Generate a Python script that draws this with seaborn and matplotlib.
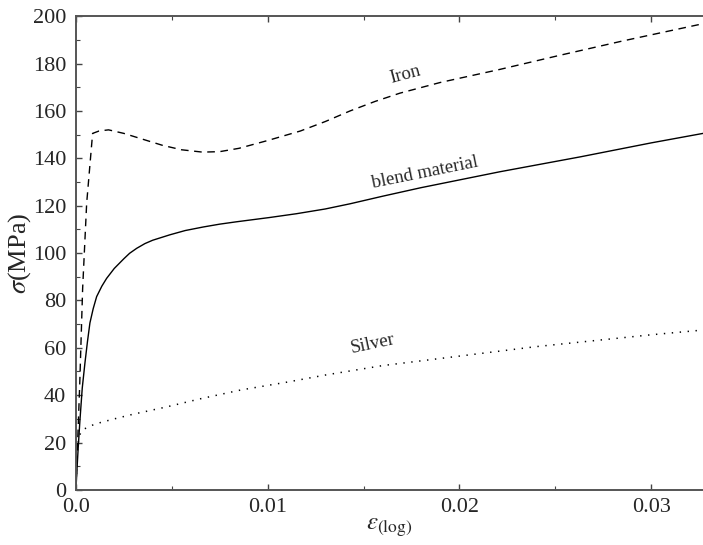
import matplotlib
matplotlib.use("Agg")
import matplotlib.pyplot as plt
from matplotlib.ticker import MultipleLocator
import seaborn as sns
import numpy as np

# strain (log) and stress (MPa)
iron_x = [0.0, 0.0002, 0.00035, 0.00056, 0.00087, 0.0012, 0.0017, 0.0025, 0.0035,
          0.0045, 0.0055, 0.0066, 0.0075, 0.0085, 0.01, 0.0117, 0.013, 0.0143,
          0.0156, 0.0169, 0.019, 0.0221, 0.02525, 0.0285, 0.0327]
iron_y = [0.0, 45, 85, 121, 150.5, 151.5, 152, 150.5, 148, 145.5, 143.6, 142.6,
          142.8, 144.2, 147.5, 151.5, 155.5, 160, 164.0, 167.5, 172, 177.5, 183.5,
          189.5, 196.8]

blend_x = [0.0, 0.00005, 0.00012, 0.00021, 0.00033, 0.00047, 0.0006, 0.00073,
           0.0009, 0.00108, 0.00135, 0.0016, 0.002, 0.0025, 0.0028, 0.00317,
           0.0036, 0.004, 0.0049, 0.0057, 0.00664, 0.0075, 0.00838, 0.0101,
           0.0115, 0.013, 0.0143, 0.016, 0.018, 0.0221, 0.0263, 0.03, 0.0327]
blend_y = [0.0, 8, 18, 29.5, 43, 53.6, 62.5, 70.5, 76.5, 81.6, 86, 89.3, 93.5,
           97.6, 99.9, 102.0, 104.0, 105.4, 107.7, 109.5, 111.0, 112.2, 113.2,
           115, 116.6, 118.6, 120.8, 124.0, 127.6, 134.3, 140.6, 146.5, 150.5]

silver_x = [0.0, 0.00004, 0.00009, 0.00015, 0.00025, 0.0004, 0.0008, 0.0013,
            0.002, 0.003, 0.0047, 0.0065, 0.0086, 0.011, 0.013, 0.016, 0.019,
            0.0212, 0.024, 0.027, 0.03, 0.0327]
silver_y = [0.0, 10, 18, 22, 24.2, 25.6, 27.2, 28.5, 30, 32, 35, 38.5, 42.2,
            45.5, 48.5, 52.5, 55.5, 57.7, 60.5, 63, 65.5, 67.5]

# curve labels: text, x, y, rotation
labels = [("Iron", 0.0172, 175.5, 15),
          ("blend material", 0.0182, 134.0, 11.5),
          ("Silver", 0.0155, 61.5, 12)]

x_ticks = [0.0, 0.01, 0.02, 0.03]
x_tick_labels = ["0.0", "0.01", "0.02", "0.03"]
y_ticks = [0, 20, 40, 60, 80, 100, 120, 140, 160, 180, 200]

sns.set_style("ticks")
plt.rcParams["font.family"] = ["Liberation Serif", "DejaVu Serif"]
plt.rcParams["mathtext.fontset"] = "stix"

fig = plt.figure(figsize=(7.03, 5.45), dpi=100)
ax = fig.add_axes([0.108, 0.101, 0.892, 0.8694])

sns.lineplot(x=iron_x, y=iron_y, ax=ax, color="black", lw=1.0,
             linestyle=(0, (5.5, 4.0)))
sns.lineplot(x=blend_x, y=blend_y, ax=ax, color="black", lw=1.0)
sns.lineplot(x=silver_x, y=silver_y, ax=ax, color="black", lw=1.1,
             linestyle=(0, (0.9, 4.3)))

for text, tx, ty, rot in labels:
    ax.text(tx, ty, text, rotation=rot, ha="center", va="center",
            fontsize=13.5, rotation_mode="anchor")

ax.set_xlim(0, 0.0327)
ax.set_ylim(0, 200)
ax.set_xticks(x_ticks)
ax.set_xticklabels(x_tick_labels)
ax.set_yticks(y_ticks)
ax.xaxis.set_minor_locator(MultipleLocator(0.005))
ax.yaxis.set_minor_locator(MultipleLocator(10))
ax.tick_params(which="both", direction="in", top=True, right=False,
               labelsize=16, color="#444444")
ax.tick_params(axis="y", pad=7)
ax.tick_params(axis="x", pad=6)
ax.tick_params(which="major", length=4, width=1.0)
ax.tick_params(which="minor", length=3, width=0.8)

for side in ["left", "bottom", "top"]:
    ax.spines[side].set_linewidth(1.4)
    ax.spines[side].set_color("#555555")
ax.spines["right"].set_visible(False)

ax.set_xlabel(r"$\varepsilon_{\rm (log)}$", fontsize=18, labelpad=0)
ax.set_ylabel(r"$\sigma$(MPa)", fontsize=19, labelpad=0)

fig.savefig("out.png", dpi=100)
